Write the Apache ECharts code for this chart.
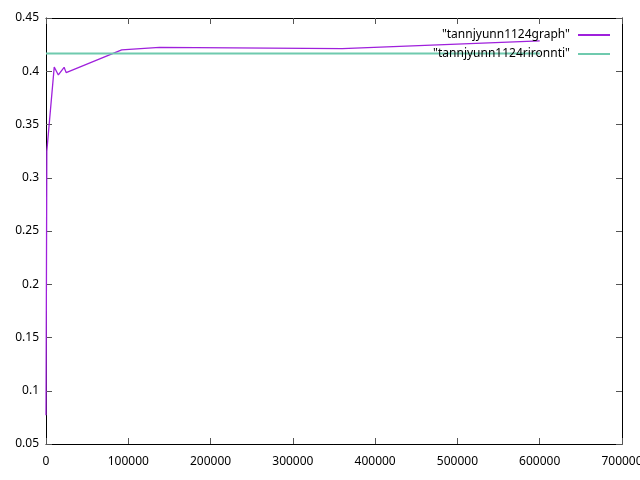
<!DOCTYPE html>
<html><head><meta charset="utf-8">
<script src="https://cdn.jsdelivr.net/npm/echarts@6/dist/echarts.min.js"></script>
<style>html,body{margin:0;padding:0;background:#fff}#c{width:640px;height:480px}</style>
</head><body><div id="c"></div>
<script>
const graphX = [0, 1000, 10000, 15000, 22000, 24500, 92000, 138000, 360000, 600000];
const graphY = [0.077, 0.325, 0.404, 0.3965, 0.4037, 0.3987, 0.420, 0.4225, 0.4212, 0.4285];
const rironX = [0, 600000];
const rironY = [0.4167, 0.4167];
const name1 = '"tannjyunn1124graph"';
const name2 = '"tannjyunn1124rironnti"';

const font = 'Noto Sans';
const purple = '#9f20dc';
const teal = '#6fcaae';
const chart = echarts.init(document.getElementById('c'));
const axisCommon = {
  axisLine: {onZero: false, lineStyle: {color: '#000', width: 1}},
  axisTick: {inside: true, length: 6, lineStyle: {color: '#555'}},
  splitLine: {show: false}
};
const legendCommon = {right: 30, padding: 0, align: 'right', icon: 'rect', itemWidth: 32, itemHeight: 2,
  textStyle: {fontFamily: font, fontSize: 12, color: '#000', padding: [0, 3, 0, 0]}};
chart.setOption({
  animation: false,
  textStyle: {fontFamily: font},
  grid: {left: 46, right: 18, top: 18, bottom: 36, outerBoundsMode: 'none', containLabel: false},
  legend: [
    Object.assign({data: [name1], top: 29}, legendCommon),
    Object.assign({data: [name2], top: 48}, legendCommon)
  ],
  xAxis: [
    Object.assign({type: 'value', min: 0, max: 700000, interval: 100000, position: 'bottom',
      axisLabel: {color: '#000', fontSize: 12, fontFamily: font, margin: 12, formatter: v => String(v)}}, axisCommon),
    Object.assign({type: 'value', min: 0, max: 700000, interval: 100000, position: 'top',
      axisLabel: {show: false}}, axisCommon)
  ],
  yAxis: [
    Object.assign({type: 'value', min: 0.05, max: 0.45, interval: 0.05, position: 'left',
      axisLabel: {color: '#000', fontSize: 12, fontFamily: font, margin: 7,
        formatter: v => String(Math.round(v * 100) / 100)}}, axisCommon),
    Object.assign({type: 'value', min: 0.05, max: 0.45, interval: 0.05, position: 'right',
      axisLabel: {show: false}}, axisCommon)
  ],
  series: [
    {name: name1, type: 'line', symbol: 'none', data: graphX.map((x, i) => [x, graphY[i]]),
     lineStyle: {color: purple, width: 1.3}, itemStyle: {color: purple}},
    {name: name2, type: 'line', symbol: 'none', data: rironX.map((x, i) => [x, rironY[i]]),
     lineStyle: {color: teal, width: 2}, itemStyle: {color: teal}}
  ]
});
</script></body></html>
